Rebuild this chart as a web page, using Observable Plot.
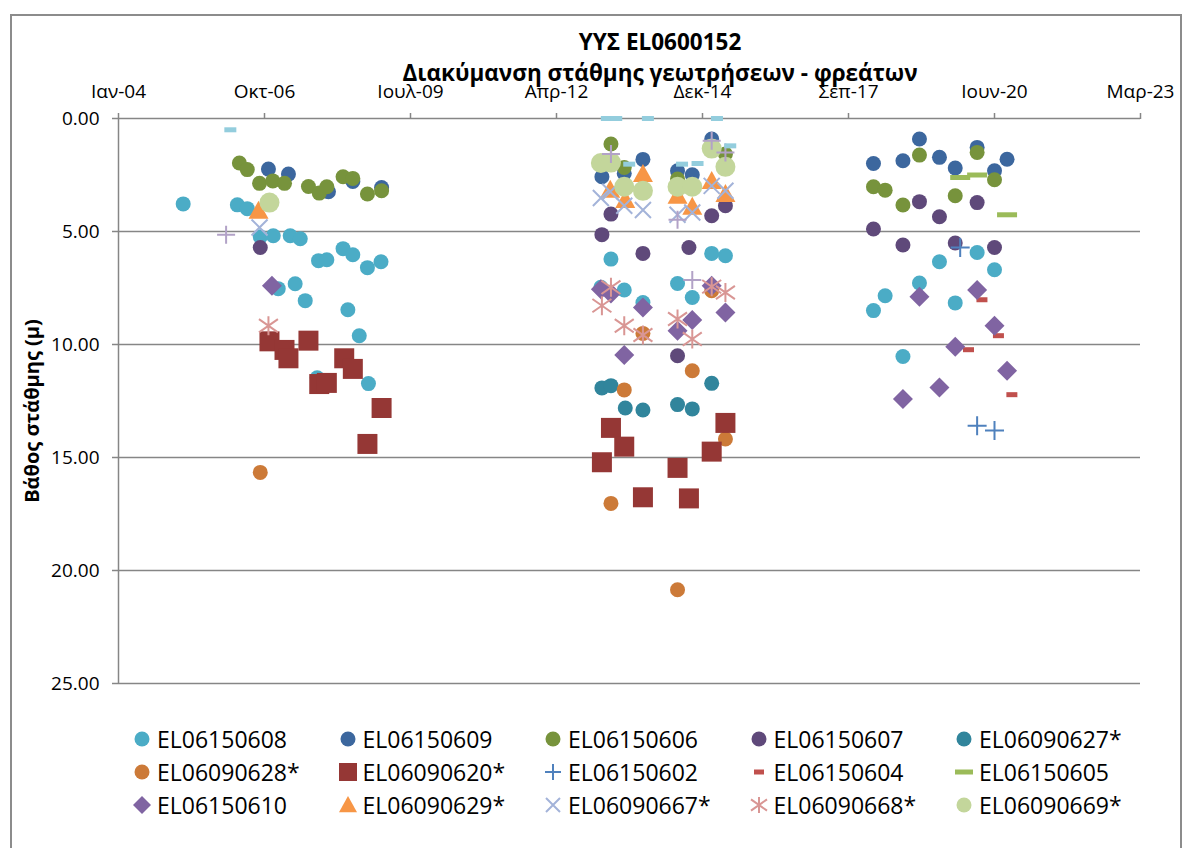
<!DOCTYPE html>
<html>
<head>
<meta charset="utf-8">
<script src="https://cdn.jsdelivr.net/npm/d3@7"></script>
<script src="https://cdn.jsdelivr.net/npm/@observablehq/plot@0.6"></script>
<style>
html,body{margin:0;padding:0;background:#fff;}
#wrap{position:relative;width:1192px;height:848px;overflow:hidden;font-family:"Open Sans",sans-serif;color:#000;}
#chart{position:absolute;left:0;top:0;}
#frame{position:absolute;left:10px;top:14px;width:1172px;height:900px;border:2px solid #8c8c8c;box-sizing:border-box;pointer-events:none;}
#title{position:absolute;left:310px;top:26px;width:700px;text-align:center;font-weight:700;font-size:22.5px;line-height:31px;}
#ylabel{position:absolute;left:-118px;top:396px;width:300px;height:30px;line-height:30px;text-align:center;font-weight:700;font-size:20px;transform:rotate(-90deg);}
#legend{position:absolute;left:131px;top:722px;display:grid;grid-template-columns:repeat(5,205.5px);grid-auto-rows:33px;font-size:23px;}
#legend .item{display:flex;align-items:center;white-space:nowrap;}
#legend svg{flex:none;margin-right:4px;}
</style>
</head>
<body>
<div id="wrap">
  <div id="chart"></div>
  <div id="title">ΥΥΣ EL0600152<br>Διακύμανση στάθμης γεωτρήσεων - φρεάτων</div>
  <div id="ylabel">Βάθος στάθμης (μ)</div>
  <div id="legend"></div>
  <div id="frame"></div>
</div>
<script>
// ---------- axis definitions ----------
const xTickDates = ["2004-01-14","2006-10-10","2009-07-06","2012-04-01","2014-12-27","2017-09-22","2020-06-18","2023-03-15"];
const xTickLabels = ["Ιαν-04","Οκτ-06","Ιουλ-09","Απρ-12","Δεκ-14","Σεπ-17","Ιουν-20","Μαρ-23"];
const yTicks = [0, 5, 10, 15, 20, 25];

// ---------- data: [date, depth (m)] ----------
const EL06150608 = [
 ["2005-04-01",3.78],["2006-04-07",3.82],["2006-06-14",3.99],["2006-09-11",5.23],["2006-12-09",5.19],["2007-01-12",7.53],
 ["2007-04-04",5.19],["2007-05-08",7.31],["2007-06-12",5.32],["2007-07-16",8.06],["2007-10-06",11.47],["2007-10-15",6.29],
 ["2007-12-11",6.25],["2008-03-31",5.76],["2008-05-03",8.46],["2008-06-06",6.03],["2008-07-20",9.61],["2008-09-14",6.60],
 ["2008-09-21",11.73],["2008-12-16",6.34],
 ["2013-01-30",7.47],["2013-04-09",6.22],["2013-07-09",7.59],["2013-11-14",8.14],["2014-07-09",7.30],["2014-10-18",7.92],
 ["2015-02-28",5.97],["2015-06-02",6.07],
 ["2018-03-12",8.50],["2018-05-31",7.84],["2018-09-30",10.53],["2019-01-21",7.28],["2019-06-07",6.34],["2019-09-23",8.16],
 ["2020-02-20",5.93],["2020-06-18",6.69]
];
const EL06150609 = [
 ["2006-11-06",2.24],["2007-03-23",2.46],["2007-12-22",3.24],["2008-06-06",2.79],["2008-12-20",3.05],
 ["2013-02-06",2.58],["2013-07-09",2.43],["2013-11-14",1.81],["2014-07-09",2.31],["2014-10-18",2.49],["2015-02-28",0.91],
 ["2018-03-12",1.99],["2018-09-30",1.87],["2019-01-21",0.91],["2019-06-07",1.72],["2019-09-23",2.19],["2020-02-20",1.28],
 ["2020-06-18",2.31],["2020-09-12",1.80]
];
const EL06150606 = [
 ["2006-04-21",1.97],["2006-06-14",2.26],["2006-09-06",2.87],["2006-12-06",2.76],["2007-02-24",2.87],["2007-08-07",3.01],
 ["2007-10-20",3.30],["2007-12-11",3.02],["2008-03-31",2.58],["2008-06-06",2.65],["2008-09-14",3.34],["2008-12-20",3.20],
 ["2013-04-09",1.13],["2013-07-09",2.17],["2014-07-09",2.68],["2015-06-02",1.57],
 ["2018-03-12",3.02],["2018-05-31",3.17],["2018-09-30",3.83],["2019-01-21",1.62],["2019-09-23",3.42],["2020-02-20",1.50],
 ["2020-06-18",2.71]
];
const EL06150607 = [
 ["2006-09-11",5.71],
 ["2013-02-06",5.14],["2013-04-09",4.23],["2013-11-14",5.97],["2014-07-09",10.50],["2014-09-25",5.71],["2015-02-28",4.30],
 ["2015-06-02",3.86],
 ["2018-03-12",4.89],["2018-09-30",5.60],["2019-01-21",3.68],["2019-06-07",4.35],["2019-09-23",5.51],["2020-02-20",3.72],
 ["2020-06-18",5.71]
];
const EL06090627 = [
 ["2013-02-06",11.92],["2013-04-09",11.82],["2013-07-16",12.81],["2013-11-14",12.90],["2014-07-09",12.66],["2014-10-18",12.85],
 ["2015-02-28",11.72]
];
const EL06090628 = [
 ["2006-09-11",15.66],
 ["2013-04-09",17.03],["2013-07-09",12.01],["2013-11-14",9.51],["2014-07-09",20.85],["2014-10-18",11.16],["2015-02-28",7.62],
 ["2015-06-02",14.18]
];
const EL06090620 = [
 ["2006-11-13",9.86],["2007-02-24",10.24],["2007-03-23",10.61],["2007-08-07",9.83],["2007-10-20",11.75],["2007-12-11",11.70],
 ["2008-04-08",10.61],["2008-06-06",11.08],["2008-09-14",14.40],["2008-12-20",12.81],
 ["2013-02-06",15.21],["2013-04-09",13.69],["2013-07-09",14.52],["2013-11-14",16.76],["2014-07-09",15.46],["2014-09-25",16.81],
 ["2015-02-28",14.74],["2015-06-02",13.47]
];
const EL06150602 = [["2019-10-27",5.71],["2020-02-20",13.59],["2020-06-18",13.81]];
const EL06150604 = [["2019-12-23",10.23],["2020-03-24",8.02],["2020-07-15",9.61],["2020-10-15",12.22]];
const EL06150605 = [["2019-10-27",2.61],["2020-02-20",2.50],["2020-09-12",4.26]];
const EL06150610 = [
 ["2006-11-30",7.40],
 ["2013-01-30",7.55],["2013-04-09",7.74],["2013-07-09",10.46],["2013-11-14",8.36],["2014-07-09",9.39],["2014-10-18",8.92],
 ["2015-02-28",7.40],["2015-06-02",8.58],
 ["2018-09-30",12.41],["2019-01-21",7.89],["2019-06-07",11.90],["2019-09-23",10.10],["2020-02-20",7.59],["2020-06-18",9.17],
 ["2020-09-12",11.16]
];
const EL06090629 = [
 ["2006-08-30",4.08],
 ["2013-04-04",3.15],["2013-07-16",3.61],["2013-11-14",2.46],["2014-07-09",3.42],["2014-10-18",3.91],["2015-02-28",2.76],
 ["2015-06-02",3.34]
];
const EL06090667 = [
 ["2006-09-06",4.82],
 ["2013-01-30",3.52],["2013-04-04",3.24],["2013-07-09",3.86],["2013-11-14",4.05],["2014-07-09",4.26],["2014-10-18",4.16],
 ["2015-02-28",2.98],["2015-06-02",3.20]
];
const EL06090668 = [
 ["2006-11-06",9.17],
 ["2013-02-06",8.28],["2013-04-09",7.47],["2013-07-09",9.17],["2013-11-14",9.58],["2014-07-09",8.87],["2014-10-18",9.76],
 ["2015-02-28",7.44],["2015-06-02",7.70]
];
const EL06090669 = [
 ["2006-11-13",3.72],
 ["2013-01-30",1.97],["2013-04-09",1.95],["2013-07-09",3.02],["2013-11-14",3.20],["2014-07-09",3.02],["2014-10-18",3.02],
 ["2015-02-28",1.33],["2015-06-02",2.14]
];
// series drawn in the chart but absent from its legend
const unlistedPlus = [["2006-01-20",5.14],["2013-04-09",1.57],["2014-07-09",4.48],["2014-10-18",7.15],["2015-02-28",0.99],["2015-06-02",1.50]];
const unlistedDash = [
 ["2006-02-18",0.50],["2013-03-12",0.00],["2013-05-15",0.00],["2013-08-12",2.02],["2013-12-18",0.00],["2014-08-09",2.02],
 ["2014-11-23",1.99],["2015-04-05",0.00],["2015-07-05",1.21]
];

// ---------- marker shapes (size -> half width r) ----------
const half = size => Math.sqrt(size / Math.PI);
const SYM = {
  circle: {draw(c, s){const r = half(s); c.moveTo(r, 0); c.arc(0, 0, r, 0, 2 * Math.PI);}},
  square: {draw(c, s){const r = half(s); c.rect(-r, -r, 2 * r, 2 * r);}},
  diamond: {draw(c, s){const r = half(s); c.moveTo(0, -r); c.lineTo(r, 0); c.lineTo(0, r); c.lineTo(-r, 0); c.closePath();}},
  triangle: {draw(c, s){const r = half(s); c.moveTo(0, -r); c.lineTo(r, r * 0.8); c.lineTo(-r, r * 0.8); c.closePath();}},
  plus: {draw(c, s){const r = half(s); c.moveTo(-r, 0); c.lineTo(r, 0); c.moveTo(0, -r); c.lineTo(0, r);}},
  times: {draw(c, s){const r = half(s); c.moveTo(-r, -r); c.lineTo(r, r); c.moveTo(-r, r); c.lineTo(r, -r);}},
  asterisk: {draw(c, s){const r = half(s); c.moveTo(-r, -r * 0.7); c.lineTo(r, r * 0.7); c.moveTo(-r, r * 0.7); c.lineTo(r, -r * 0.7); c.moveTo(0, -r); c.lineTo(0, r);}},
  dash: {draw(c, s){const r = half(s); c.rect(-r, -2.5, 2 * r, 5);}}
};

const series = [
  {name:"EL06150608",  data:EL06150608, color:"#4BACC6", sym:"circle",  r:7.5, lr:7.5},
  {name:"EL06150609",  data:EL06150609, color:"#3C679E", sym:"circle",  r:7.5, lr:7.5},
  {name:"EL06150606",  data:EL06150606, color:"#77933C", sym:"circle",  r:7.5, lr:7.5},
  {name:"EL06150607",  data:EL06150607, color:"#5F497A", sym:"circle",  r:7.5, lr:7.5},
  {name:"EL06090627*", data:EL06090627, color:"#31859C", sym:"circle",  r:7.5, lr:7.5},
  {name:"EL06090628*", data:EL06090628, color:"#CC7A38", sym:"circle",  r:7.5, lr:7.5},
  {name:"EL06090620*", data:EL06090620, color:"#953735", sym:"square",  r:10,  lr:9},
  {name:"EL06150602",  data:EL06150602, color:"#4F81BD", sym:"plus",    r:9.5, lr:8, stroke:true},
  {name:"EL06150604",  data:EL06150604, color:"#C0504D", sym:"dash",    r:5.5, lr:5},
  {name:"EL06150605",  data:EL06150605, color:"#9BBB59", sym:"dash",    r:10,  lr:9},
  {name:"EL06150610",  data:EL06150610, color:"#8064A2", sym:"diamond", r:10,  lr:9},
  {name:"EL06090629*", data:EL06090629, color:"#F79646", sym:"triangle",r:10,  lr:9},
  {name:"EL06090667*", data:EL06090667, color:"#A3B3D9", sym:"times",   r:8,   lr:7, stroke:true},
  {name:"EL06090668*", data:EL06090668, color:"#D99694", sym:"asterisk",r:9.5, lr:8, stroke:true},
  {name:"EL06090669*", data:EL06090669, color:"#C3D69B", sym:"circle",  r:10,  lr:7.5},
  {name:null, data:unlistedPlus, color:"#B2A2C7", sym:"plus", r:9, stroke:true},
  {name:null, data:unlistedDash, color:"#93CDDD", sym:"dash", r:6}
];

const parse = d3.utcParse("%Y-%m-%d");
const xDates = xTickDates.map(parse);
const labelOf = new Map(xDates.map((d, i) => [+d, xTickLabels[i]]));
const xDomain = [xDates[0], xDates[xDates.length - 1]];
const grid = "#868686";

const dotMarks = series.map(s => Plot.dot(s.data, {
  x: d => parse(d[0]),
  y: d => d[1],
  r: s.r,
  symbol: SYM[s.sym],
  fill: s.stroke ? "none" : s.color,
  stroke: s.stroke ? s.color : "none",
  strokeWidth: s.stroke ? 2 : 0
}));

const chart = Plot.plot({
  width: 1192,
  height: 848,
  marginLeft: 118,
  marginRight: 52,
  marginTop: 118,
  marginBottom: 165,
  style: {fontFamily: "'Open Sans', sans-serif", fontSize: "19px", background: "transparent", color: "#000"},
  x: {type: "utc", domain: xDomain},
  y: {domain: [0, 25], reverse: true},
  marks: [
    Plot.ruleY(yTicks.filter(v => v > 0), {stroke: grid, strokeWidth: 1.5}),
    Plot.ruleY([0], {stroke: grid, strokeWidth: 1.5}),
    Plot.ruleX([xDomain[0]], {y1: 0, y2: 25, stroke: grid, strokeWidth: 1.5}),
    Plot.axisX({anchor: "top", ticks: xDates, tickFormat: d => labelOf.get(+d), tickSize: 6, tickPadding: 15, stroke: grid, strokeWidth: 1.5, fill: "#000", label: null, fontSize: 19}),
    Plot.axisY({anchor: "left", ticks: yTicks, tickFormat: d => d.toFixed(2), tickSize: 6, tickPadding: 13, stroke: grid, strokeWidth: 1.5, fill: "#000", label: null, fontSize: 19}),
    ...dotMarks
  ]
});
document.getElementById("chart").appendChild(chart);

// ---------- legend ----------
const legend = d3.select("#legend");
series.filter(s => s.name).forEach(s => {
  const item = legend.append("div").attr("class", "item");
  const svg = item.append("svg").attr("width", 22).attr("height", 22).attr("viewBox", "-11 -11 22 22");
  const p = d3.path();
  SYM[s.sym].draw(p, Math.PI * s.lr * s.lr);
  svg.append("path").attr("d", p.toString())
    .attr("fill", s.stroke ? "none" : s.color)
    .attr("stroke", s.stroke ? s.color : "none")
    .attr("stroke-width", s.stroke ? 2 : 0);
  item.append("span").text(s.name);
});
</script>
</body>
</html>
